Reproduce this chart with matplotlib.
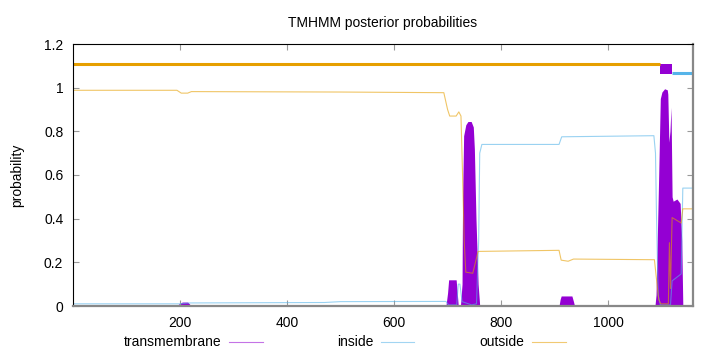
import matplotlib
matplotlib.use("Agg")
from matplotlib import pyplot as plt
from matplotlib.lines import Line2D

plt.rcParams['font.family'] = ['Liberation Sans', 'DejaVu Sans']

seq_len = 1158

# posterior probabilities, (residue, probability) breakpoints
tm_pos = [1, 195, 200, 205, 215, 220, 225, 697, 700, 702, 716, 718, 720, 724, 727, 728, 730,
          734, 738, 744, 748, 750, 753, 757, 760, 908, 910, 912, 932, 935, 937, 1087, 1089,
          1094, 1097, 1100, 1105, 1110, 1111, 1113, 1115, 1117, 1119, 1121, 1128, 1134, 1137,
          1139, 1158]
tm_prob = [0.002, 0.002, 0.012, 0.018, 0.018, 0.005, 0.002, 0.002, 0.06, 0.12, 0.12, 0.06,
           0.0, 0.0, 0.1, 0.5, 0.78, 0.83, 0.845, 0.845, 0.82, 0.72, 0.4, 0.1, 0.0, 0.0, 0.03,
           0.046, 0.046, 0.02, 0.0, 0.0, 0.05, 0.6, 0.95, 0.98, 0.995, 0.99, 0.97, 0.75, 0.8,
           0.91, 0.5, 0.48, 0.49, 0.47, 0.3, 0.0, 0.0]

inside_pos = [1, 200, 220, 470, 500, 697, 700, 703, 717, 720, 723, 727, 745, 754, 758, 760,
              764, 908, 913, 1085, 1088, 1090, 1093, 1097, 1116, 1119, 1136, 1139, 1158]
inside_prob = [0.010, 0.010, 0.014, 0.016, 0.020, 0.021, 0.01, 0.005, 0.005, 0.10, 0.10,
               0.02, 0.005, 0.01, 0.3, 0.70, 0.74, 0.74, 0.775, 0.78, 0.70, 0.4, 0.05, 0.005,
               0.005, 0.115, 0.147, 0.54, 0.54]

outside_pos = [1, 195, 203, 215, 222, 500, 693, 700, 704, 716, 721, 725, 728, 731, 734, 747,
               752, 757, 908, 912, 925, 935, 1086, 1090, 1094, 1098, 1112, 1114, 1116, 1119,
               1136, 1139, 1158]
outside_prob = [0.988, 0.988, 0.975, 0.975, 0.982, 0.980, 0.977, 0.90, 0.870, 0.870, 0.889,
                0.87, 0.60, 0.30, 0.155, 0.15, 0.20, 0.25, 0.255, 0.21, 0.205, 0.215, 0.212,
                0.12, 0.03, 0.01, 0.01, 0.29, 0.08, 0.405, 0.38, 0.445, 0.445]

# predicted topology drawn above the curves
outside_seg = [1, 1097]
tm_seg = [1097, 1119]
inside_seg = [1119, 1158]

purple = '#9400D3'
blue = '#56B4E9'
orange = '#E69F00'

fig = plt.figure(figsize=(7.2, 3.52), dpi=100)
ax = fig.add_axes([73/720, 46/352, 620/720, 262/352])

ax.fill_between(tm_pos, tm_prob, 0, color=purple, lw=0)
ax.plot(inside_pos, inside_prob, color=blue, lw=0.8, alpha=0.6)
ax.plot(outside_pos, outside_prob, color=orange, lw=0.8, alpha=0.6)

ax.plot(outside_seg, [1.11, 1.11], color=orange, lw=2.2, solid_capstyle='butt')
ax.fill_between(tm_seg, 1.063, 1.109, color=purple, lw=0)
ax.plot(inside_seg, [1.068, 1.068], color=blue, lw=2.2, solid_capstyle='butt')

ax.set_xlim(1, seq_len)
ax.set_ylim(0, 1.2)
ax.set_xticks([200, 400, 600, 800, 1000])
ax.set_yticks([0, 0.2, 0.4, 0.6, 0.8, 1.0, 1.2])
ax.set_yticklabels(['0', '0.2', '0.4', '0.6', '0.8', '1', '1.2'])
ax.tick_params(direction='in', length=4, color='#999999', labelsize=10, pad=7,
               top=True, right=True)

for s in ['left', 'top']:
    ax.spines[s].set_color('black')
    ax.spines[s].set_linewidth(0.8)
for s in ['bottom', 'right']:
    ax.spines[s].set_color('#888888')
    ax.spines[s].set_linewidth(1.6)

ax.set_title('TMHMM posterior probabilities', fontsize=10, pad=12)
ax.set_ylabel('probability', fontsize=10, labelpad=14)

# gnuplot-style key below the plot
key_y = (352 - 341.7) / 352
for label, col, x0, x1 in [('transmembrane', purple, 229, 263),
                           ('inside', blue, 381, 414),
                           ('outside', orange, 532, 566)]:
    fig.text((x0 - 8) / 720, key_y, label, ha='right', va='center', fontsize=10)
    fig.add_artist(Line2D([x0 / 720, x1 / 720], [key_y, key_y], color=col, lw=0.8,
                          alpha=0.55, transform=fig.transFigure))

fig.savefig('out.png', dpi=100)
